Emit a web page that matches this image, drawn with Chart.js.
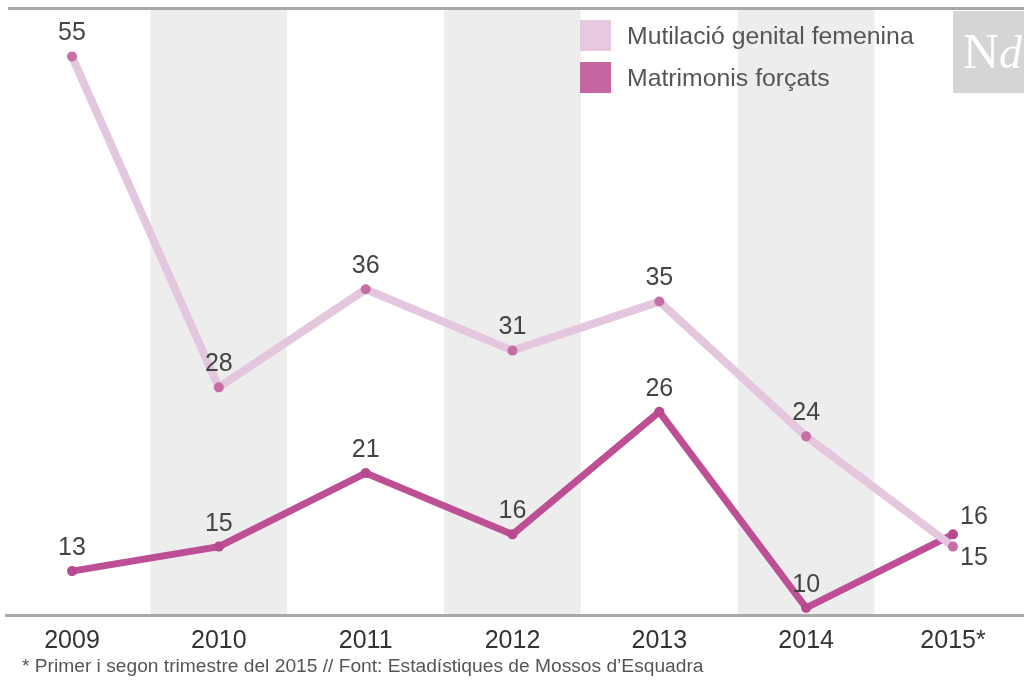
<!DOCTYPE html>
<html>
<head>
<meta charset="utf-8">
<script src="https://cdn.jsdelivr.net/npm/chart.js@4.4.1/dist/chart.umd.min.js"></script>
<style>
  html, body { margin: 0; padding: 0; background: #fff; }
  body { width: 1024px; height: 680px; position: relative; overflow: hidden; font-family: "Liberation Sans", Arial, sans-serif; }
  #wrap { position: absolute; left: 0; top: 0; width: 1024px; height: 668px; }
  .legend { position: absolute; left: 580px; top: 20px; color: #555; font-size: 24.8px; }
  .legend .row { position: relative; height: 42px; line-height: 32px; padding-left: 47px; }
  .legend .sw { position: absolute; left: 0; top: 0; width: 31px; height: 31px; }
  .logo { position: absolute; left: 953px; top: 11px; width: 71px; height: 82px; background: #d5d5d5;
          color: #fff; font-family: "Liberation Serif", "DejaVu Serif", serif; font-size: 50px; line-height: 80px; padding-left: 10px; box-sizing: border-box; }
  .logo i { font-size: 46px; }
  .note { position: absolute; left: 22px; top: 655px; font-family: "Liberation Sans Narrow", "Arial Narrow", "Liberation Sans", sans-serif; font-size: 19.2px; color: #555; }
</style>
</head>
<body>
<div id="wrap"><canvas id="chart"></canvas></div>
<div class="legend">
  <div class="row"><span class="sw" style="background:#e6c8e0"></span>Mutilació genital femenina</div>
  <div class="row"><span class="sw" style="background:#c4669f"></span>Matrimonis forçats</div>
</div>
<div class="logo">N<i>d</i></div>
<div class="note">* Primer i segon trimestre del 2015 // Font: Estadístiques de Mossos d’Esquadra</div>
<script>
  /* ---------- Data ---------- */
  const years = ['2009', '2010', '2011', '2012', '2013', '2014', '2015*'];
  const mutilacio = [55, 28, 36, 31, 35, 24, 15];
  const matrimonis = [13, 15, 21, 16, 26, 10, 16];
  const shadedYears = [1, 3, 5];

  /* ---------- Background bands + rules ---------- */
  const bandsPlugin = {
    id: 'bands',
    beforeDatasetsDraw(chart) {
      const { ctx, chartArea, scales } = chart;
      const step = scales.x.getPixelForValue(1) - scales.x.getPixelForValue(0);
      ctx.save();
      ctx.fillStyle = '#ededed';
      shadedYears.forEach(i => {
        const cx = scales.x.getPixelForValue(i);
        const w = step * 0.93;
        ctx.fillRect(cx - w / 2, chartArea.top, w, chartArea.bottom - chartArea.top);
      });
      ctx.strokeStyle = '#a8a8a8';
      ctx.lineWidth = 3;
      ctx.beginPath();
      ctx.moveTo(8, chartArea.top - 1.5);
      ctx.lineTo(chart.width, chartArea.top - 1.5);
      ctx.moveTo(5, chartArea.bottom + 1.5);
      ctx.lineTo(chart.width, chartArea.bottom + 1.5);
      ctx.stroke();
      ctx.restore();
    }
  };

  /* ---------- Value labels ---------- */
  const labelsPlugin = {
    id: 'valueLabels',
    afterDatasetsDraw(chart) {
      const { ctx } = chart;
      ctx.save();
      ctx.font = '25px "Liberation Sans", Arial, sans-serif';
      ctx.fillStyle = '#444';
      ctx.textBaseline = 'middle';
      chart.data.datasets.forEach((ds, di) => {
        const meta = chart.getDatasetMeta(di);
        meta.data.forEach((pt, i) => {
          const last = i === ds.data.length - 1;
          if (last) {
            ctx.textAlign = 'left';
            ctx.fillText(ds.data[i], pt.x + 7, di === 0 ? pt.y + 11 : pt.y - 17);
          } else {
            ctx.textAlign = 'center';
            ctx.fillText(ds.data[i], pt.x, pt.y - 23);
          }
        });
      });
      ctx.restore();
    }
  };

  new Chart(document.getElementById('chart'), {
    type: 'line',
    data: {
      labels: years,
      datasets: [
        {
          label: 'Mutilació genital femenina',
          data: mutilacio,
          borderColor: '#e4c6df',
          borderWidth: 8,
          pointRadius: 5,
          pointBackgroundColor: '#c76ea4',
          pointBorderWidth: 0,
          tension: 0
        },
        {
          label: 'Matrimonis forçats',
          data: matrimonis,
          borderColor: '#bd5095',
          borderWidth: 7,
          pointRadius: 5,
          pointBackgroundColor: '#b84890',
          pointBorderWidth: 0,
          tension: 0
        }
      ]
    },
    options: {
      responsive: true,
      maintainAspectRatio: false,
      animation: false,
      layout: { padding: { left: 72, right: 71, top: 10, bottom: 0 } },
      plugins: { legend: { display: false }, tooltip: { enabled: false } },
      scales: {
        x: {
          offset: false,
          grid: { display: false, drawTicks: false },
          border: { display: false },
          ticks: {
            padding: 12,
            color: '#333',
            maxRotation: 0,
            font: { family: '"Liberation Sans Narrow", "Arial Narrow", "Liberation Sans", sans-serif', size: 25 }
          }
        },
        y: {
          display: false,
          min: 9.5,
          max: 58.8
        }
      }
    },
    plugins: [bandsPlugin, labelsPlugin]
  });
</script>
</body>
</html>
